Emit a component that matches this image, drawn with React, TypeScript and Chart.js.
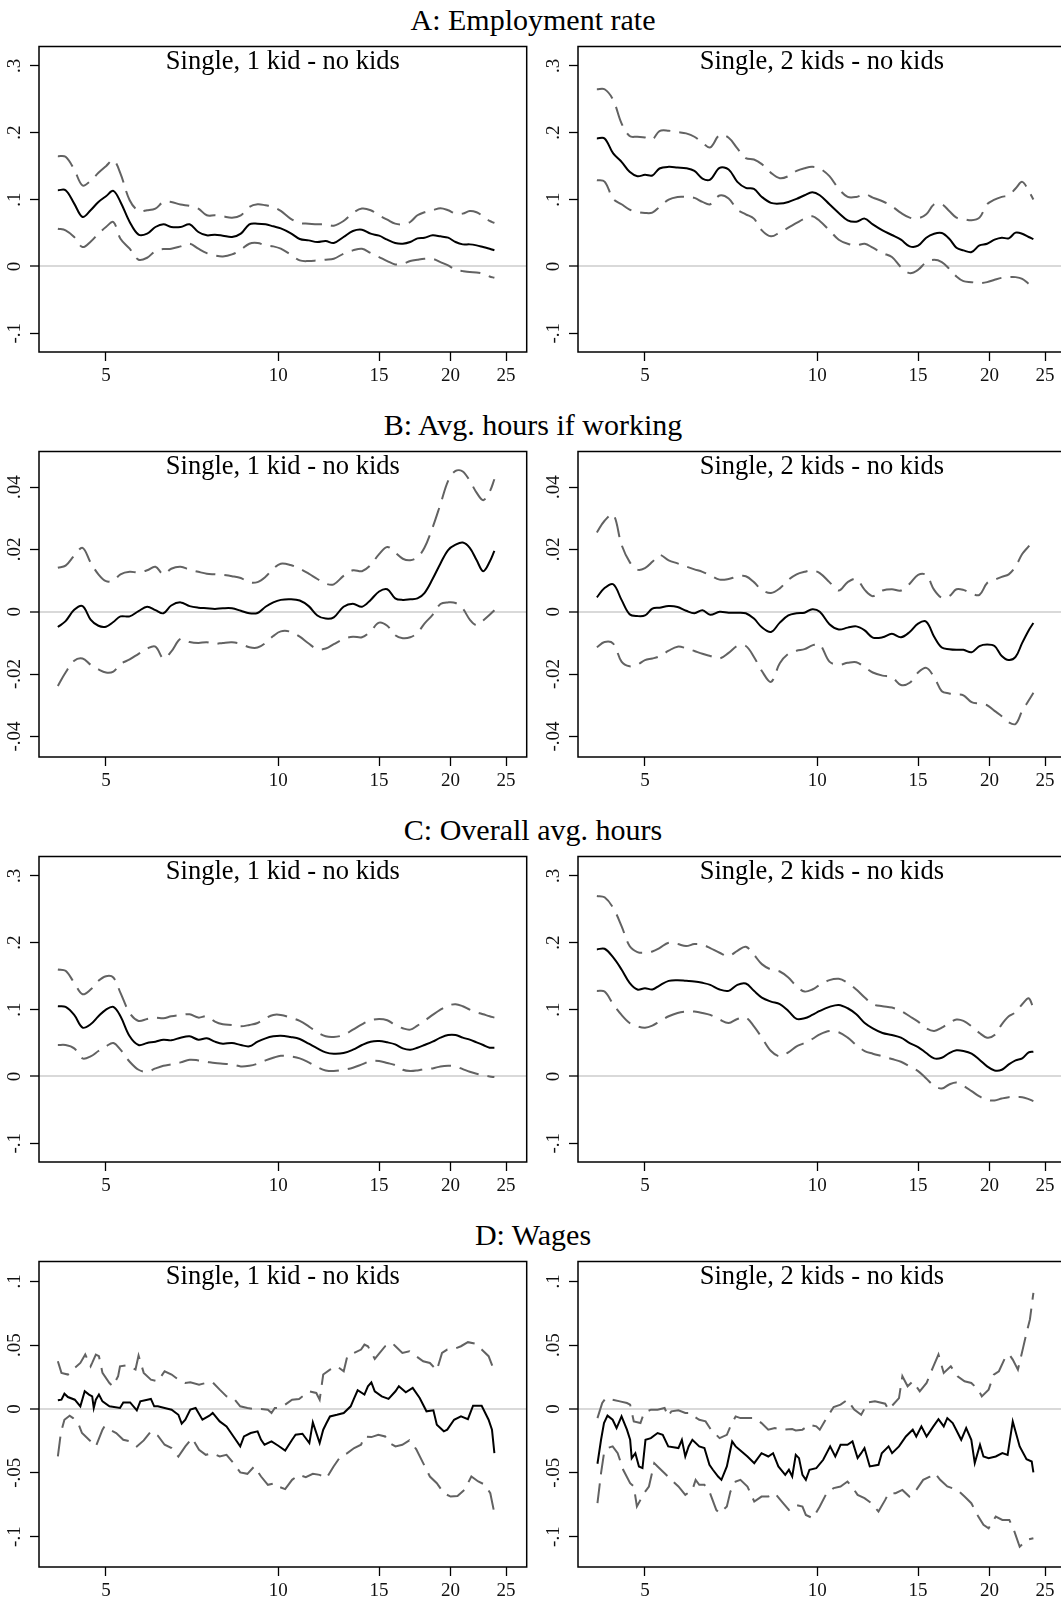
import React, { useEffect, useRef } from 'react';
import { Chart, registerables } from 'chart.js';

Chart.register(...registerables);

const SERIF = '"Liberation Serif", "Times New Roman", serif';

// ---------- data ----------
const xGrid = [4.12, 4.25, 4.4, 4.55, 4.7, 4.85, 5.0, 5.15, 5.3, 5.5, 5.7, 5.9, 6.1, 6.3, 6.5, 6.75, 7.0, 7.25, 7.5, 7.75, 8.0, 8.3, 8.6, 8.9, 9.2, 9.5, 9.8, 10.1, 10.5, 10.9, 11.3, 11.7, 12.1, 12.5, 13.0, 13.5, 14.0, 14.5, 15.0, 15.5, 16.0, 16.5, 17.0, 17.5, 18.0, 18.6, 19.2, 19.8, 20.4, 21.0, 21.6, 22.2, 22.8, 23.4, 23.85];

const xTickValues = [5, 10, 15, 20, 25];
const xTickLabels = ['5', '10', '15', '20', '25'];

const yTicksShare = [-0.1, 0, 0.1, 0.2, 0.3];
const yLabelsShare = ['-.1', '0', '.1', '.2', '.3'];
const yTicksHours = [-0.04, -0.02, 0, 0.02, 0.04];
const yLabelsHours = ['-.04', '-.02', '0', '.02', '.04'];
const yTicksWage = [-0.1, -0.05, 0, 0.05, 0.1];
const yLabelsWage = ['-.1', '-.05', '0', '.05', '.1'];

const sectionTitles = ['A: Employment rate', 'B: Avg. hours if working', 'C: Overall avg. hours', 'D: Wages'];
const subTitles = ['Single, 1 kid - no kids', 'Single, 2 kids - no kids'];

// A: employment rate (on xGrid)
const emplOneEst = [.114, .114, .094, .074, .084, .0965, .105, .113, .0965, .0665, .0475, .049, .059, .063, .059, .059, .063, .0515, .0465, .0475, .046, .044, .049, .063, .064, .063, .060, .057, .050, .041, .039, .0365, .038, .035, .044, .053, .055, .049, .046, .040, .035, .034, .0365, .042, .043, .0465, .045, .043, .0365, .033, .033, .0315, .029, .0265, .024];
const emplOneHi = [.165, .164, .145, .121, .128, .140, .150, .159, .139, .099, .083, .084, .0865, .0965, .0965, .0925, .0905, .0865, .0765, .0765, .075, .073, .0765, .089, .093, .0915, .089, .083, .0715, .065, .064, .063, .063, .061, .068, .080, .0865, .084, .0765, .070, .064, .063, .0665, .0765, .081, .084, .087, .084, .079, .079, .083, .081, .075, .068, .065];
const emplOneLo = [.0565, .054, .044, .029, .037, .049, .059, .0665, .0415, .0265, .010, .013, .023, .026, .0265, .030, .034, .0265, .020, .0165, .015, .018, .025, .034, .035, .0315, .030, .0265, .018, .009, .008, .009, .010, .0115, .019, .024, .0265, .020, .014, .008, .003, .004, .008, .010, .0115, .0115, .0065, .0015, -.005, -.007, -.0085, -.009, -.011, -.015, -.017];
const emplTwoEst = [.1915, .1915, .169, .1565, .1415, .135, .137, .136, .1465, .149, .148, .147, .143, .1315, .130, .1475, .145, .1265, .1175, .116, .104, .095, .094, .0965, .101, .1065, .111, .1065, .093, .080, .069, .067, .0715, .063, .054, .047, .040, .030, .031, .043, .049, .050, .0415, .028, .024, .0215, .0315, .034, .040, .043, .042, .0505, .049, .044, .041];
const emplTwoHi = [.265, .265, .249, .214, .195, .194, .193, .190, .2025, .203, .201, .199, .194, .185, .178, .1965, .1925, .1765, .162, .160, .153, .140, .132, .135, .143, .147, .149, .1465, .135, .116, .104, .104, .108, .103, .0975, .090, .080, .073, .072, .078, .093, .093, .083, .073, .071, .069, .073, .093, .100, .104, .1065, .1165, .1265, .113, .100];
const emplTwoLo = [.129, .127, .101, .093, .085, .0815, .080, .0805, .089, .100, .104, .104, .1025, .0965, .093, .106, .1015, .085, .078, .0715, .054, .045, .051, .058, .065, .0715, .075, .068, .054, .040, .034, .0315, .034, .028, .020, .014, -.001, -.010, -.005, .0065, .010, .0065, -.0035, -.015, -.022, -.0235, -.025, -.0235, -.020, -.017, -.016, -.016, -.0185, -.026, -.031];

// B: average hours if working (on xGrid)
const hoursOneEst = [-.0049, -.0030, .0006, .0018, -.0025, -.0045, -.0048, -.0033, -.0015, -.0015, .0002, .0016, .0005, -.0005, .0020, .0030, .0018, .0013, .0011, .0009, .0011, .0011, .0003, -.0005, -.0004, .0016, .0030, .0038, .0040, .0036, .0018, -.0012, -.0022, -.0018, .0016, .0026, .0016, .0038, .0065, .0072, .0043, .0038, .0040, .0043, .0060, .0105, .0155, .0198, .0215, .0222, .0205, .0166, .0130, .0160, .0195];
const hoursOneHi = [.0141, .0148, .0180, .0205, .0158, .0120, .0098, .0100, .0120, .0128, .0126, .0133, .0144, .0120, .0138, .0144, .0135, .0128, .0122, .0120, .0118, .0114, .0108, .0094, .0095, .0112, .0138, .0154, .0150, .0138, .0122, .0105, .0090, .0088, .0115, .0133, .0130, .0150, .0185, .0208, .0190, .0170, .0165, .0175, .0205, .0270, .0345, .0420, .0452, .0450, .0420, .0382, .0358, .0385, .0425];
const hoursOneLo = [-.0238, -.0195, -.0157, -.0150, -.0170, -.0185, -.0195, -.0192, -.0168, -.0153, -.0135, -.0118, -.0112, -.0150, -.0128, -.0087, -.0097, -.0100, -.0098, -.0103, -.0100, -.0098, -.0103, -.0114, -.0115, -.0100, -.0078, -.0063, -.0064, -.0080, -.0102, -.0120, -.0118, -.0104, -.0088, -.0080, -.0082, -.0062, -.0035, -.0045, -.0075, -.0085, -.0082, -.0068, -.0038, -.0010, .0025, .0030, .0028, .0010, -.0025, -.0043, -.0028, -.0010, .0005];
const hoursTwoEst = [.0046, .0076, .0088, .0038, -.0008, -.0014, -.0012, .0010, .0013, .0018, .0015, .0003, -.0005, .0005, -.0010, .0000, -.0003, -.0003, -.0005, -.0022, -.0050, -.0065, -.0035, -.0012, -.0005, -.0003, .0008, .0000, -.0040, -.0057, -.0051, -.0047, -.0060, -.0083, -.0082, -.0071, -.0082, -.0065, -.0038, -.0032, -.0080, -.0115, -.0120, -.0122, -.0122, -.0130, -.0110, -.0105, -.0110, -.0142, -.0155, -.0145, -.0100, -.0060, -.0036];
const hoursTwoHi = [.0254, .0292, .0312, .0215, .0160, .0135, .0140, .0160, .0182, .0165, .0155, .0145, .0136, .0128, .0117, .0103, .0105, .0113, .0114, .0095, .0070, .0060, .0075, .0102, .0120, .0128, .0132, .0124, .0095, .0068, .0095, .0105, .0070, .0050, .0068, .0072, .0068, .0090, .0118, .0118, .0070, .0045, .0050, .0072, .0070, .0058, .0054, .0092, .0102, .0112, .0120, .0145, .0185, .0210, .0230];
const hoursTwoLo = [-.0114, -.0097, -.0102, -.0160, -.0175, -.0170, -.0155, -.0150, -.0143, -.0125, -.0112, -.0117, -.0126, -.0135, -.0142, -.0150, -.0132, -.0110, -.0110, -.0145, -.0190, -.0225, -.0165, -.0135, -.0125, -.0120, -.0108, -.0105, -.0160, -.0170, -.0164, -.0162, -.0178, -.0195, -.0205, -.0210, -.0235, -.0228, -.0195, -.0180, -.0210, -.0255, -.0262, -.0265, -.0268, -.0290, -.0295, -.0300, -.0318, -.0335, -.0355, -.0360, -.0318, -.0285, -.0260];

// C: overall average hours (on xGrid)
const overallOneEst = [.105, .104, .092, .073, .078, .090, .100, .104, .090, .060, .047, .050, .052, .055, .054, .058, .060, .055, .057, .052, .049, .050, .047, .045, .052, .057, .060, .061, .059, .056, .049, .042, .036, .034, .035, .040, .047, .052, .053, .051, .048, .042, .040, .043, .047, .052, .058, .062, .062, .058, .055, .051, .047, .043, .043];
const overallOneHi = [.160, .158, .140, .123, .130, .143, .150, .148, .125, .095, .083, .086, .088, .087, .090, .092, .093, .088, .090, .082, .078, .077, .075, .077, .080, .087, .092, .092, .088, .083, .075, .066, .060, .059, .062, .070, .078, .084, .086, .084, .077, .072, .070, .076, .083, .092, .100, .106, .108, .105, .100, .096, .093, .090, .088];
const overallOneLo = [.047, .047, .042, .027, .030, .038, .045, .050, .040, .022, .010, .007, .012, .016, .018, .021, .025, .024, .022, .020, .019, .018, .015, .016, .019, .024, .028, .031, .030, .027, .021, .014, .009, .008, .010, .013, .018, .023, .023, .020, .017, .010, .008, .009, .011, .012, .015, .016, .015, .011, .007, .004, .002, .000, -.001];
const overallTwoEst = [.190, .191, .178, .160, .140, .130, .132, .130, .136, .143, .144, .143, .142, .140, .137, .130, .128, .137, .139, .128, .118, .112, .108, .098, .086, .087, .092, .098, .104, .107, .102, .093, .080, .072, .065, .062, .058, .050, .044, .035, .027, .028, .035, .039, .038, .034, .025, .015, .009, .010, .018, .024, .027, .036, .037];
const overallTwoHi = [.270, .268, .252, .225, .195, .186, .185, .187, .192, .200, .198, .195, .198, .197, .192, .185, .180, .188, .194, .182, .168, .160, .157, .148, .135, .127, .130, .137, .144, .146, .140, .130, .118, .108, .105, .103, .098, .090, .082, .072, .068, .073, .080, .085, .083, .075, .065, .058, .062, .078, .090, .096, .108, .117, .102];
const overallTwoLo = [.128, .127, .108, .092, .080, .075, .073, .076, .082, .090, .095, .097, .097, .095, .092, .085, .080, .086, .088, .075, .058, .038, .030, .036, .045, .050, .056, .063, .068, .066, .058, .047, .038, .034, .030, .026, .022, .015, .008, -.003, -.014, -.018, -.012, -.009, -.014, -.022, -.030, -.035, -.036, -.033, -.031, -.031, -.031, -.034, -.037];

// D: wages (each series has its own x positions)
const wageOneEstX = [4.12, 4.18, 4.23, 4.29, 4.41, 4.51, 4.59, 4.67, 4.73, 4.76, 4.80, 4.86, 4.93, 5.07, 5.29, 5.36, 5.51, 5.66, 5.74, 5.99, 6.07, 6.16, 6.33, 6.51, 6.69, 6.78, 6.88, 7.02, 7.17, 7.37, 7.58, 7.68, 7.90, 8.12, 8.35, 8.58, 8.71, 8.95, 9.20, 9.33, 9.46, 9.73, 10.00, 10.28, 10.57, 10.72, 11.02, 11.33, 11.49, 11.81, 11.98, 12.14, 12.31, 12.66, 13.01, 13.38, 13.57, 13.76, 14.14, 14.34, 14.54, 14.74, 15.16, 15.58, 16.02, 16.24, 16.70, 17.17, 17.66, 18.15, 18.66, 18.92, 19.46, 19.73, 20.28, 20.85, 21.44, 21.89, 22.66, 23.30, 23.62, 23.85];
const wageOneEstY = [.0068, .0073, .0120, .0094, .0073, .0021, .0139, .0113, .0099, .0008, .0073, .0113, .0060, .0021, .0008, .0052, .0052, -.0010, .0060, .0079, .0021, .0021, .0008, -.0005, -.0045, -.0115, -.0084, -.0005, .0008, -.0084, -.0052, -.0031, -.0097, -.0136, -.0215, -.0293, -.0215, -.0188, -.0175, -.0241, -.0280, -.0254, -.0288, -.0325, -.0241, -.0202, -.0194, -.0267, -.0105, -.0267, -.0162, -.0110, -.0058, -.0045, -.0031, .0021, .0086, .0147, .0113, .0178, .0209, .0139, .0099, .0079, .0139, .0178, .0131, .0165, .0086, -.0018, -.0010, -.0123, -.0175, -.0162, -.0084, -.0058, -.0079, .0026, .0026, -.0084, -.0162, -.0346];
const wageOneHiX = [4.12, 4.18, 4.29, 4.41, 4.51, 4.60, 4.70, 4.73, 4.80, 4.86, 4.93, 5.07, 5.14, 5.25, 5.29, 5.43, 5.63, 5.70, 5.82, 5.99, 6.16, 6.33, 6.51, 6.69, 6.88, 7.02, 7.27, 7.47, 7.68, 7.90, 8.12, 8.35, 8.58, 8.83, 9.08, 9.33, 9.59, 9.73, 9.86, 10.00, 10.28, 10.57, 10.87, 11.33, 11.65, 11.81, 11.98, 12.31, 12.66, 13.01, 13.20, 13.57, 13.95, 14.14, 14.34, 14.74, 14.95, 15.37, 15.80, 16.02, 16.47, 16.94, 17.41, 17.91, 18.40, 18.92, 19.32, 19.73, 20.28, 20.85, 21.44, 22.04, 22.66, 23.30, 23.85];
const wageOneHiY = [.0374, .0283, .0270, .0322, .0361, .0427, .0335, .0361, .0427, .0414, .0283, .0204, .0178, .0257, .0335, .0343, .0309, .0419, .0283, .0230, .0217, .0296, .0270, .0230, .0204, .0209, .0191, .0204, .0209, .0152, .0099, .0086, .0021, .0008, .0000, .0000, -.0005, -.0031, .0008, .0008, .0034, .0073, .0079, .0139, .0126, .0073, .0270, .0309, .0335, .0296, .0414, .0440, .0466, .0505, .0492, .0393, .0427, .0492, .0518, .0492, .0440, .0453, .0414, .0374, .0361, .0304, .0440, .0466, .0471, .0492, .0524, .0513, .0466, .0414, .0296];
const wageOneLoX = [4.12, 4.17, 4.23, 4.32, 4.38, 4.47, 4.54, 4.67, 4.80, 4.93, 4.97, 5.07, 5.21, 5.36, 5.51, 5.66, 5.82, 5.99, 6.16, 6.33, 6.51, 6.69, 6.88, 7.07, 7.27, 7.47, 7.68, 7.90, 8.12, 8.35, 8.58, 8.83, 9.08, 9.33, 9.59, 9.86, 10.00, 10.28, 10.57, 10.87, 11.17, 11.49, 11.81, 12.14, 12.49, 12.84, 13.20, 13.57, 13.95, 14.14, 14.54, 14.95, 15.37, 15.58, 16.02, 16.47, 16.94, 17.41, 17.91, 18.40, 18.92, 19.46, 20.00, 20.56, 21.14, 21.74, 22.35, 22.98, 23.46, 23.85];
const wageOneLoY = [-.0372, -.0188, -.0084, -.0052, -.0071, -.0110, -.0188, -.0241, -.0293, -.0162, -.0136, -.0162, -.0188, -.0241, -.0254, -.0293, -.0246, -.0175, -.0209, -.0280, -.0306, -.0372, -.0293, -.0228, -.0319, -.0359, -.0346, -.0372, -.0359, -.0424, -.0497, -.0508, -.0450, -.0529, -.0594, -.0581, -.0607, -.0628, -.0555, -.0516, -.0534, -.0508, -.0516, -.0542, -.0450, -.0372, -.0346, -.0306, -.0280, -.0215, -.0220, -.0202, -.0215, -.0262, -.0293, -.0280, -.0246, -.0314, -.0424, -.0529, -.0581, -.0660, -.0686, -.0681, -.0634, -.0529, -.0568, -.0594, -.0660, -.0817];
const wageTwoEstX = [4.13, 4.19, 4.24, 4.30, 4.39, 4.46, 4.55, 4.65, 4.71, 4.74, 4.81, 4.88, 4.95, 5.01, 5.12, 5.26, 5.37, 5.49, 5.72, 5.80, 5.88, 5.96, 6.05, 6.22, 6.35, 6.48, 6.57, 6.71, 6.80, 6.95, 7.10, 7.20, 7.34, 7.55, 7.76, 7.99, 8.21, 8.37, 8.55, 8.79, 8.92, 9.04, 9.17, 9.29, 9.42, 9.55, 9.69, 9.96, 10.24, 10.53, 10.75, 10.98, 11.29, 11.52, 11.76, 11.93, 12.09, 12.35, 12.79, 12.96, 13.32, 13.51, 13.89, 14.28, 14.48, 14.68, 14.89, 15.20, 15.52, 15.95, 16.28, 16.63, 16.87, 17.24, 17.48, 17.84, 18.20, 18.58, 18.84, 19.24, 19.51, 19.92, 20.50, 21.05, 21.50, 21.95, 22.57, 23.20, 23.69, 23.85];
const wageTwoEstY = [-.0429, -.0241, -.0110, -.0052, -.0084, -.0149, -.0058, -.0162, -.0241, -.0385, -.0346, -.0450, -.0463, -.0241, -.0228, -.0188, -.0202, -.0293, -.0306, -.0241, -.0372, -.0293, -.0241, -.0293, -.0306, -.0437, -.0476, -.0529, -.0555, -.0450, -.0254, -.0293, -.0325, -.0372, -.0424, -.0346, -.0372, -.0346, -.0450, -.0516, -.0476, -.0529, -.0359, -.0385, -.0516, -.0555, -.0476, -.0463, -.0398, -.0293, -.0372, -.0280, -.0280, -.0254, -.0385, -.0346, -.0306, -.0450, -.0437, -.0346, -.0293, -.0346, -.0293, -.0215, -.0188, -.0162, -.0215, -.0136, -.0215, -.0136, -.0079, -.0136, -.0071, -.0110, -.0162, -.0241, -.0149, -.0241, -.0424, -.0280, -.0372, -.0385, -.0372, -.0346, -.0359, -.0097, -.0293, -.0393, -.0411, -.0497];
const wageTwoHiX = [4.13, 4.21, 4.27, 4.39, 4.52, 4.65, 4.71, 4.78, 4.91, 4.98, 5.12, 5.26, 5.41, 5.49, 5.56, 5.72, 5.88, 6.00, 6.09, 6.22, 6.38, 6.52, 6.75, 6.95, 7.05, 7.20, 7.34, 7.55, 7.76, 7.99, 8.21, 8.43, 8.67, 9.04, 9.17, 9.42, 9.69, 9.96, 10.10, 10.38, 10.68, 10.98, 11.29, 11.60, 11.93, 12.26, 12.61, 13.14, 13.32, 13.89, 14.08, 14.38, 14.68, 15.10, 15.52, 15.95, 16.28, 16.63, 17.11, 17.58, 18.08, 18.58, 19.11, 19.38, 19.92, 20.34, 20.76, 21.35, 21.65, 21.95, 22.41, 22.88, 23.20, 23.52, 23.85];
const wageTwoHiY = [-.0071, .0047, .0086, .0073, .0060, .0047, .0034, -.0097, -.0110, -.0031, -.0005, -.0005, .0008, -.0058, -.0018, -.0010, -.0031, -.0031, -.0058, -.0084, -.0097, -.0162, -.0228, -.0202, -.0136, -.0058, -.0071, -.0071, -.0071, -.0110, -.0162, -.0149, -.0162, -.0157, -.0168, -.0162, -.0123, -.0136, -.0162, -.0071, .0016, .0034, .0073, -.0005, -.0045, .0052, .0060, .0042, -.0005, .0086, .0257, .0178, .0217, .0139, .0204, .0335, .0427, .0283, .0335, .0257, .0217, .0204, .0152, .0099, .0152, .0270, .0296, .0414, .0427, .0387, .0309, .0479, .0597, .0702, .0911];
const wageTwoLoX = [4.13, 4.19, 4.24, 4.30, 4.39, 4.48, 4.58, 4.71, 4.78, 4.84, 4.91, 4.98, 5.08, 5.19, 5.26, 5.41, 5.56, 5.72, 5.88, 6.05, 6.13, 6.22, 6.35, 6.48, 6.66, 6.75, 6.95, 7.05, 7.20, 7.34, 7.55, 7.76, 7.99, 8.21, 8.43, 8.67, 8.92, 9.17, 9.42, 9.55, 9.82, 10.10, 10.38, 10.68, 10.98, 11.29, 11.60, 11.76, 12.09, 12.43, 12.79, 13.14, 13.32, 13.70, 14.08, 14.48, 14.89, 15.31, 15.73, 16.06, 16.39, 16.87, 17.58, 18.08, 18.58, 19.11, 19.51, 19.92, 20.50, 21.05, 21.65, 22.10, 22.57, 23.20, 23.85];
const wageTwoLoY = [-.0738, -.0503, -.0346, -.0306, -.0293, -.0346, -.0476, -.0581, -.0607, -.0764, -.0712, -.0660, -.0607, -.0424, -.0450, -.0503, -.0555, -.0607, -.0673, -.0634, -.0555, -.0594, -.0594, -.0647, -.0791, -.0817, -.0764, -.0647, -.0568, -.0555, -.0607, -.0725, -.0686, -.0686, -.0660, -.0725, -.0791, -.0751, -.0764, -.0830, -.0856, -.0764, -.0660, -.0620, -.0607, -.0568, -.0634, -.0673, -.0699, -.0738, -.0804, -.0712, -.0660, -.0660, -.0634, -.0686, -.0634, -.0555, -.0529, -.0503, -.0555, -.0607, -.0634, -.0686, -.0738, -.0843, -.0908, -.0935, -.0843, -.0869, -.0869, -.0961, -.1079, -.1026, -.1013];

// ---------- layout ----------
const ROW_TOPS = [0, 405, 810, 1215];
const COL_LEFTS = [0, 539];
const CANVAS_W = 535;
const CANVAS_H = 352;

type Series = { xs: number[]; ys: number[] };

type PanelProps = {
  left: number;
  top: number;
  title: string;
  yMin: number;
  yMax: number;
  yTicks: number[];
  yLabels: string[];
  smooth: boolean;
  est: Series;
  hi: Series;
  lo: Series;
};

const framePlugin = {
  id: 'frameBox',
  afterDraw(chart: any) {
    const { ctx, chartArea: a } = chart;
    ctx.save();
    ctx.strokeStyle = '#000';
    ctx.lineWidth = 1.5;
    ctx.strokeRect(a.left, a.top, a.right - a.left, a.bottom - a.top);
    ctx.restore();
  },
};

function widestLabel(labels: string[]): number {
  const c = document.createElement('canvas').getContext('2d');
  if (!c) return 20;
  c.font = `19px ${SERIF}`;
  return Math.max(...labels.map((l) => c.measureText(l).width));
}

function Panel(p: PanelProps) {
  const ref = useRef<HTMLCanvasElement | null>(null);
  useEffect(() => {
    const canvas = ref.current;
    if (!canvas) return;
    const widest = widestLabel(p.yLabels);
    const tickFont = { family: SERIF, size: 19 };
    const tension = p.smooth ? 0.35 : 0;
    const pts = (s: Series) => s.xs.map((x, i) => ({ x, y: s.ys[i] }));
    const ci = {
      borderColor: '#626262',
      borderWidth: 2,
      borderDash: [20, 9],
      pointRadius: 0,
      tension,
      fill: false,
    };
    const chart = new Chart(canvas, {
      type: 'line',
      data: {
        datasets: [
          { label: 'Upper bound', data: pts(p.hi), ...ci },
          { label: 'Lower bound', data: pts(p.lo), ...ci },
          {
            label: 'Estimate',
            data: pts(p.est),
            borderColor: '#000',
            borderWidth: 2,
            pointRadius: 0,
            tension,
            fill: false,
          },
        ],
      } as any,
      options: {
        responsive: false,
        animation: false,
        layout: { padding: { top: 5.5, right: 8.3, bottom: 0, left: 0 } },
        plugins: {
          legend: { display: false },
          tooltip: { enabled: false },
          title: {
            display: true,
            text: p.title,
            fullSize: false,
            color: '#000',
            font: { family: SERIF, size: 26.5, weight: 'normal' },
            padding: { top: 0.6, bottom: -31.4 },
          },
        },
        scales: {
          x: {
            type: 'logarithmic',
            min: 3.819,
            max: 27.16,
            afterBuildTicks: (s: any) => {
              s.ticks = xTickValues.map((v) => ({ value: v }));
            },
            afterFit: (s: any) => {
              s.height = 40;
              s.paddingLeft = 0;
              s.paddingRight = 0;
              s.paddingTop = 0;
              s.paddingBottom = 0;
            },
            border: { display: false },
            grid: {
              drawOnChartArea: false,
              drawTicks: true,
              tickLength: 9,
              tickColor: '#000',
              tickWidth: 1.3,
            },
            ticks: {
              font: tickFont,
              color: '#111',
              padding: 4,
              autoSkip: false,
              minRotation: 0,
              maxRotation: 0,
              callback: (v: any) => {
                const i = xTickValues.indexOf(Number(v));
                return i >= 0 ? xTickLabels[i] : '';
              },
            },
          },
          y: {
            type: 'linear',
            min: p.yMin,
            max: p.yMax,
            afterBuildTicks: (s: any) => {
              s.ticks = p.yTicks.map((v) => ({ value: v }));
            },
            afterFit: (s: any) => {
              s.width = 39;
              s.paddingTop = 0;
              s.paddingBottom = 0;
              s.paddingLeft = 0;
              s.paddingRight = 0;
            },
            border: { display: false },
            grid: {
              color: (c: any) => (c.tick && c.tick.value === 0 ? '#d9d9d9' : 'rgba(0,0,0,0)'),
              lineWidth: (c: any) => (c.tick && c.tick.value === 0 ? 2 : 1),
              drawTicks: true,
              tickLength: 9,
              tickColor: '#000',
              tickWidth: 1.3,
            },
            ticks: {
              font: tickFont,
              color: '#111',
              minRotation: 90,
              maxRotation: 90,
              crossAlign: 'center',
              padding: 14.7 - widest / 2,
              autoSkip: false,
              callback: (v: any) => {
                const i = p.yTicks.findIndex((t) => Math.abs(t - Number(v)) < 1e-9);
                return i >= 0 ? p.yLabels[i] : '';
              },
            },
          },
        },
      } as any,
      plugins: [framePlugin],
    });
    return () => chart.destroy();
  }, []);
  return (
    <canvas
      ref={ref}
      width={CANVAS_W}
      height={CANVAS_H}
      style={{ position: 'absolute', left: p.left, top: p.top, width: CANVAS_W, height: CANVAS_H }}
    />
  );
}

const onGrid = (ys: number[]): Series => ({ xs: xGrid, ys });

const rows = [
  {
    yMin: -0.128, yMax: 0.329, yTicks: yTicksShare, yLabels: yLabelsShare, smooth: true,
    panels: [
      [onGrid(emplOneEst), onGrid(emplOneHi), onGrid(emplOneLo)],
      [onGrid(emplTwoEst), onGrid(emplTwoHi), onGrid(emplTwoLo)],
    ],
  },
  {
    yMin: -0.0466, yMax: 0.0514, yTicks: yTicksHours, yLabels: yLabelsHours, smooth: true,
    panels: [
      [onGrid(hoursOneEst), onGrid(hoursOneHi), onGrid(hoursOneLo)],
      [onGrid(hoursTwoEst), onGrid(hoursTwoHi), onGrid(hoursTwoLo)],
    ],
  },
  {
    yMin: -0.128, yMax: 0.329, yTicks: yTicksShare, yLabels: yLabelsShare, smooth: true,
    panels: [
      [onGrid(overallOneEst), onGrid(overallOneHi), onGrid(overallOneLo)],
      [onGrid(overallTwoEst), onGrid(overallTwoHi), onGrid(overallTwoLo)],
    ],
  },
  {
    yMin: -0.1238, yMax: 0.1156, yTicks: yTicksWage, yLabels: yLabelsWage, smooth: false,
    panels: [
      [
        { xs: wageOneEstX, ys: wageOneEstY },
        { xs: wageOneHiX, ys: wageOneHiY },
        { xs: wageOneLoX, ys: wageOneLoY },
      ],
      [
        { xs: wageTwoEstX, ys: wageTwoEstY },
        { xs: wageTwoHiX, ys: wageTwoHiY },
        { xs: wageTwoLoX, ys: wageTwoLoY },
      ],
    ],
  },
];

export default function App() {
  return (
    <div
      style={{
        position: 'absolute',
        left: 0,
        top: 0,
        width: 1061,
        height: 1600,
        overflow: 'hidden',
        background: '#fff',
      }}
    >
      {rows.map((r, ri) => (
        <React.Fragment key={ri}>
          <div
            style={{
              position: 'absolute',
              left: 0,
              top: ROW_TOPS[ri] + 3,
              width: 1066,
              textAlign: 'center',
              fontFamily: SERIF,
              fontSize: 30,
              lineHeight: '34px',
              color: '#000',
              whiteSpace: 'nowrap',
            }}
          >
            {sectionTitles[ri]}
          </div>
          {r.panels.map((s, ci) => (
            <Panel
              key={ci}
              left={COL_LEFTS[ci]}
              top={ROW_TOPS[ri] + 40}
              title={subTitles[ci]}
              yMin={r.yMin}
              yMax={r.yMax}
              yTicks={r.yTicks}
              yLabels={r.yLabels}
              smooth={r.smooth}
              est={s[0]}
              hi={s[1]}
              lo={s[2]}
            />
          ))}
        </React.Fragment>
      ))}
    </div>
  );
}
